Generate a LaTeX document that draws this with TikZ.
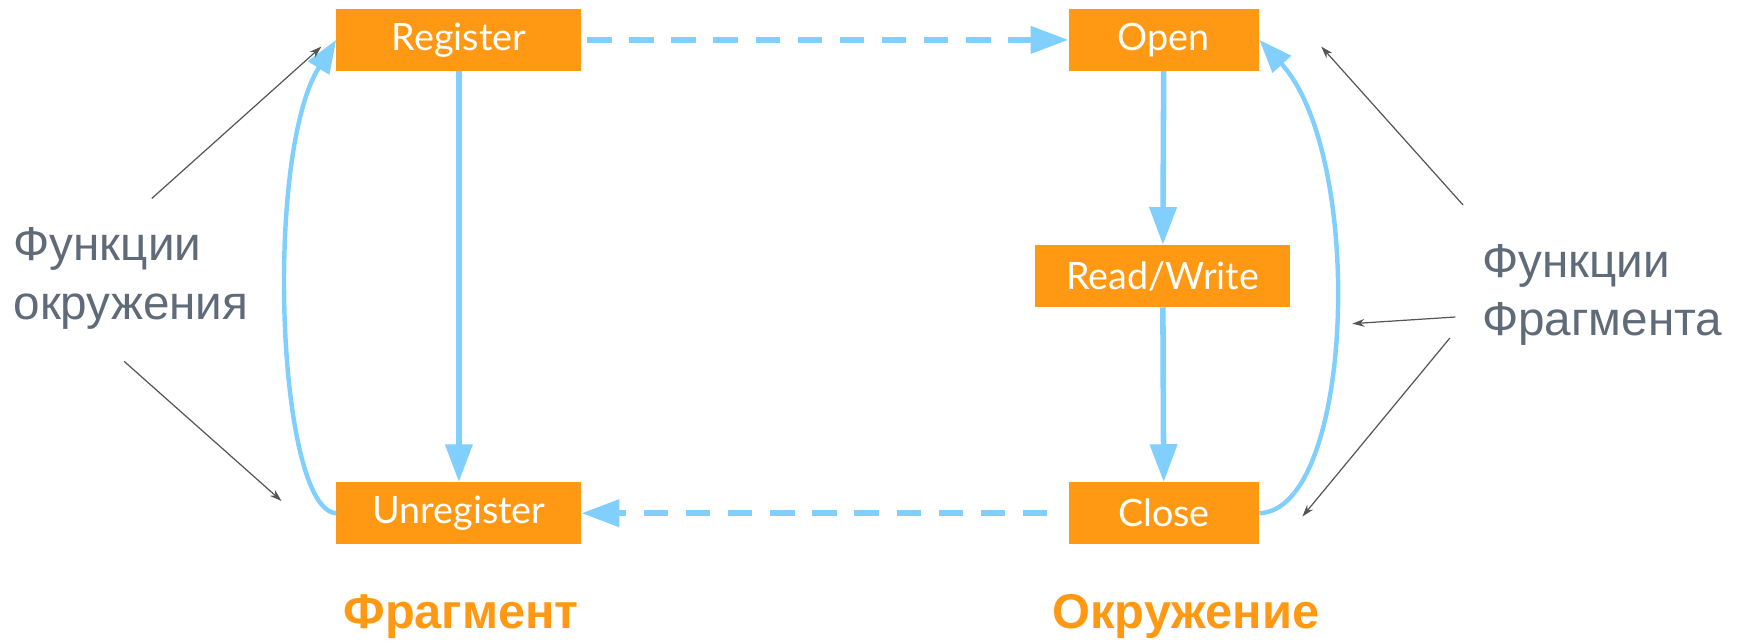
\documentclass[tikz,border=0pt]{standalone}
\usepackage{fontspec}
\setmainfont{Liberation Sans}
\newfontfamily\boxfont{Lato}
\usepackage{xcolor}
\usetikzlibrary{arrows.meta}

\definecolor{boxorange}{HTML}{FF9914}
\definecolor{flowblue}{HTML}{80CFFF}
\definecolor{notegray}{HTML}{5F6B78}
\definecolor{pointgray}{HTML}{555555}

\begin{document}
\begin{tikzpicture}[x=1pt, y=-1pt]
				% Styles
				\tikzstyle{state} = [fill=boxorange, rectangle, minimum height=56pt, minimum width=221pt, inner sep=0pt, text=white, font=\boxfont\fontsize{34}{38}\selectfont]
				\tikzstyle{flow} = [draw=flowblue, line width=5pt, -{Triangle[length=34pt, width=24pt]}]
				\tikzstyle{dflow} = [flow, dash pattern=on 22pt off 16pt]
				\tikzstyle{loop} = [draw=flowblue, line width=4pt, -{Triangle[length=30pt, width=22pt]}]
				\tikzstyle{pointer} = [draw=pointgray, line width=1.1pt, -{Stealth[length=11pt, width=7pt]}]
				\tikzstyle{note} = [text=notegray, align=left, anchor=west, inner sep=0pt, font=\fontsize{43}{53}\selectfont]
				\tikzstyle{side} = [text=boxorange, font=\bfseries\fontsize{44}{50}\selectfont]

				\useasboundingbox (0,0) rectangle (1568,580);

				% Nodes
				\node (reg) [state] at (414,36) {Register};
				\node (unreg) [state] at (414,463) {Unregister};
				\node (open) [state, minimum width=172pt] at (1050,36) {Open};
				\node (rw) [state, minimum width=230pt] at (1049,249) {Read/Write};
				\node (close) [state, minimum width=172pt] at (1050,463) {Close};

				\node (envfun) [note] at (12,251) {Функции\\окружения};
				\node (fragfun) [note] at (1337,266) {Функции\\Фрагмента};
				\node (frag) [side] at (416,556) {Фрагмент};
				\node (env) [side] at (1070,556) {Окружение};

				\coordinate (envA) at (137,179);
				\coordinate (envB) at (112,326);
				\coordinate (envA') at (290,42);
				\coordinate (envB') at (254,452);
				\coordinate (fragA) at (1320,185);
				\coordinate (fragB) at (1313,286);
				\coordinate (fragC) at (1308,305);
				\coordinate (fragA') at (1192,42);
				\coordinate (fragB') at (1220,292);
				\coordinate (fragC') at (1175,466);

				% Connections
				\draw [dflow, shorten <=5pt] (reg) -- (open);
				\draw [dflow, shorten <=19pt] (close) -- (unreg);
				\draw [flow] (reg) -- (unreg);
				\draw [flow] (open) -- (rw);
				\draw [flow] (rw) -- (close);
				\draw [loop] (unreg.west) .. controls (250,460) and (238,140) .. (reg.west);
				\draw [loop] (close.east) .. controls (1222,460) and (1232,140) .. (open.east);

				\draw [pointer] (envA) -- (envA');
				\draw [pointer] (envB) -- (envB');
				\draw [pointer] (fragA) -- (fragA');
				\draw [pointer] (fragB) -- (fragB');
				\draw [pointer] (fragC) -- (fragC');

			\end{tikzpicture}
\end{document}
